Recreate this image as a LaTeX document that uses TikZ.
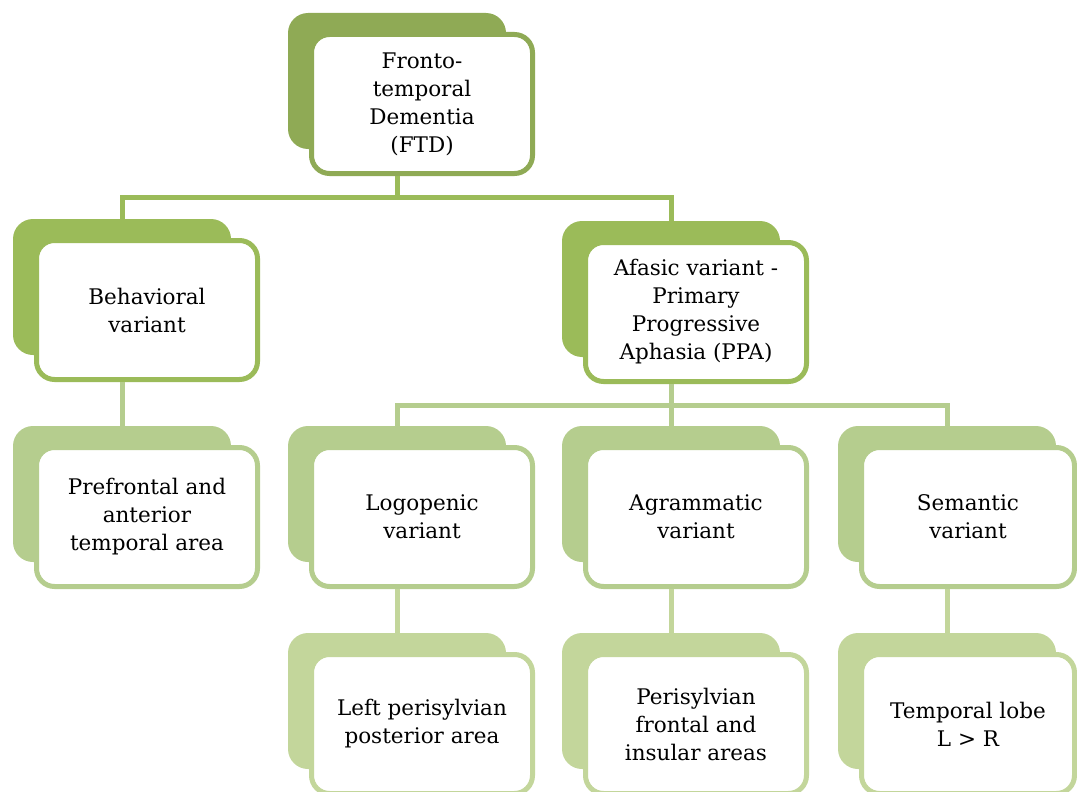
\documentclass[tikz,border=0pt]{standalone}
\usepackage{fontspec}
\setmainfont{DejaVu Serif}
\definecolor{lvA}{HTML}{8FAA55}
\definecolor{lvB}{HTML}{9BBB59}
\definecolor{lvC}{HTML}{B5CD8E}
\definecolor{lvD}{HTML}{C3D69B}
\begin{document}
\begin{tikzpicture}[x=1pt,y=-1pt,
  backcard/.style={rectangle, rounded corners=20pt, minimum width=218pt,
    minimum height=136pt, inner sep=0pt, draw=none, fill=#1},
  frontcard/.style={rectangle, rounded corners=18pt, minimum width=221pt,
    minimum height=139pt, line width=5pt, draw=#1, fill=white,
    align=center, inner sep=2pt, font=\fontsize{21.5}{28}\selectfont},
  link/.style={draw=#1, line width=5pt},
]
\useasboundingbox (0,0) rectangle (1077,792);
\clip (0,0) rectangle (1077,792);

% #1 name, #2 left edge, #3 top edge, #4 colour, #5 width, #6 text
\newcommand\tierbox[6]{%
  \node[backcard=#4] (#1-b) at (#2+88, #3+49) {};
  \node[frontcard=#4, minimum width=#5] (#1) at (#2+#5/2+2.5, #3+72) {#6};
}

% level 1
\tierbox{ftd}{309}{32}{lvA}{221}{Fronto-\\temporal\\Dementia\\(FTD)}
% level 2
\tierbox{beh}{34}{238}{lvB}{221}{Behavioral\\variant}
\tierbox{aph}{583}{240}{lvB}{221}{Afasic variant -\\Primary\\Progressive\\Aphasia (PPA)}
% level 3
\tierbox{pre}{34}{445}{lvC}{221}{Prefrontal and\\anterior\\temporal area}
\tierbox{logo}{309}{445}{lvC}{221}{Logopenic\\variant}
\tierbox{agr}{583}{445}{lvC}{221}{Agrammatic\\variant}
\tierbox{sem}{859}{445}{lvC}{213}{Semantic\\variant}
% level 4
\tierbox{lps}{309}{652}{lvD}{221}{Left perisylvian\\posterior area}
\tierbox{pfi}{583}{652}{lvD}{221}{Perisylvian\\frontal and\\insular areas}
\tierbox{tlr}{859}{652}{lvD}{213}{Temporal lobe\\L > R}

% connectors
\draw[link=lvB] (ftd-b |- ftd.south) -- ++(0,21) -| (beh-b.north);
\draw[link=lvB] (ftd-b |- ftd.south) -- ++(0,21) -| (aph-b.north);
\draw[link=lvC] (beh-b |- beh.south) -- (pre-b.north);
\draw[link=lvC] (aph-b |- aph.south) -- ++(0,21) -| (logo-b.north);
\draw[link=lvC] (aph-b |- aph.south) -- (agr-b.north);
\draw[link=lvC] (aph-b |- aph.south) -- ++(0,21) -| (sem-b.north);
\draw[link=lvD] (logo-b |- logo.south) -- (lps-b.north);
\draw[link=lvD] (agr-b |- agr.south) -- (pfi-b.north);
\draw[link=lvD] (sem-b |- sem.south) -- (tlr-b.north);
\end{tikzpicture}
\end{document}
